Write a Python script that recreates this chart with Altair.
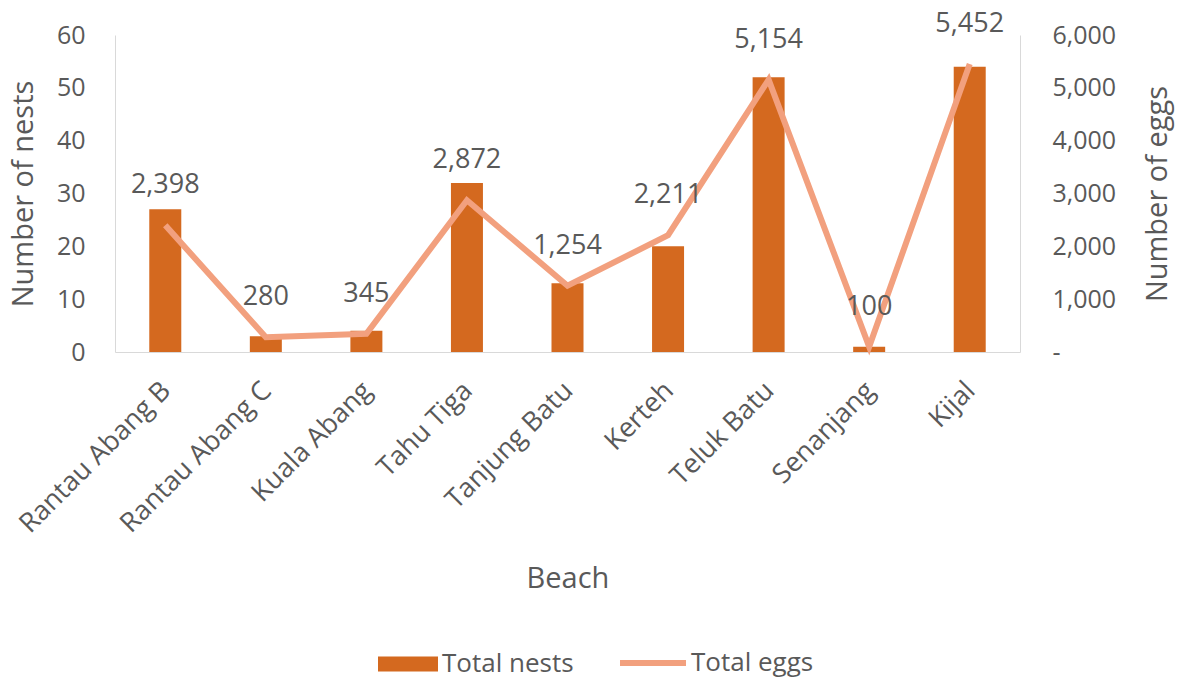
import altair as alt
import pandas as pd

beaches = ["Rantau Abang B", "Rantau Abang C", "Kuala Abang", "Tahu Tiga", "Tanjung Batu",
           "Kerteh", "Teluk Batu", "Senanjang", "Kijal"]
nests = [27, 3, 4, 32, 13, 20, 52, 1, 54]
eggs = [2398, 280, 345, 2872, 1254, 2211, 5154, 100, 5452]

df = pd.DataFrame({"Beach": beaches, "nests": nests, "eggs": eggs,
                   "s1": "Total nests", "s2": "Total eggs"})

FONT = "Open Sans"
GREY = "#595959"
BAR_C = "#D4691F"
LINE_C = "#F2A07E"

x = alt.X("Beach:N", sort=beaches, title="Beach",
          scale=alt.Scale(paddingInner=0.68, paddingOuter=0.34),
          axis=alt.Axis(labelAngle=-45, labelFontSize=27, titleFontSize=29, labelLimit=400,
                        labelColor=GREY, titleColor=GREY, ticks=False, labelOffset=-8,
                        domainColor="#D9D9D9", labelPadding=25, titlePadding=27,
                        titleFontWeight="normal", labelFont=FONT, titleFont=FONT))

bars = alt.Chart(df).mark_bar(size=32).encode(
    x=x,
    y=alt.Y("nests:Q", title="Number of nests",
            scale=alt.Scale(domain=[0, 60]),
            axis=alt.Axis(values=[0, 10, 20, 30, 40, 50, 60], grid=False, ticks=False,
                          domainColor="#D9D9D9", labelFontSize=25, titleFontSize=29,
                          labelColor=GREY, titleColor=GREY, titleFontWeight="normal",
                          labelPadding=30, titlePadding=18, labelFont=FONT, titleFont=FONT)),
    color=alt.Color("s1:N", scale=alt.Scale(domain=["Total nests"], range=[BAR_C]),
                    legend=alt.Legend(title=None, orient="none", legendX=263, legendY=599,
                                      symbolType="M-1,-0.25L1,-0.25L1,0.25L-1,0.25Z",
                                      labelFontSize=26, labelColor=GREY, labelFont=FONT,
                                      symbolSize=3600, symbolStrokeWidth=0, labelOffset=4)),
)

yr = alt.Y("eggs:Q", title="Number of eggs",
           scale=alt.Scale(domain=[0, 6000]),
           axis=alt.Axis(orient="right", values=[0, 1000, 2000, 3000, 4000, 5000, 6000],
                         labelExpr="datum.value == 0 ? '-' : format(datum.value, ',')",
                         grid=False, ticks=False, domainColor="#D9D9D9",
                         labelFontSize=25, titleFontSize=29, labelColor=GREY, titleColor=GREY,
                         titleFontWeight="normal", labelPadding=32, titlePadding=28,
                         titleAngle=270, titleBaseline="top", labelFont=FONT, titleFont=FONT))

line = alt.Chart(df).mark_line(strokeWidth=6).encode(
    x=x,
    y=yr,
    stroke=alt.Stroke("s2:N", scale=alt.Scale(domain=["Total eggs"], range=[LINE_C]),
                      legend=alt.Legend(title=None, orient="none", legendX=502, legendY=592,
                                        symbolType="stroke",
                                        labelFontSize=26, labelColor=GREY, labelFont=FONT,
                                        symbolSize=4356, symbolStrokeWidth=6, labelOffset=2)),
)

labels = alt.Chart(df).mark_text(fontSize=27, color=GREY, font=FONT, dy=-40).encode(
    x=x,
    y=yr,
    text=alt.Text("eggs:Q", format=","),
)

right = alt.layer(line, labels)

chart = alt.layer(bars, right).resolve_scale(
    y="independent", color="independent", stroke="independent"
).properties(
    width=905, height=317,
    autosize=alt.AutoSizeParams(type="none"),
    padding={"left": 115, "top": 35, "right": 169, "bottom": 330},
).configure_view(stroke=None)

chart.save("out.html", embed_options={"renderer": "svg", "actions": False})
